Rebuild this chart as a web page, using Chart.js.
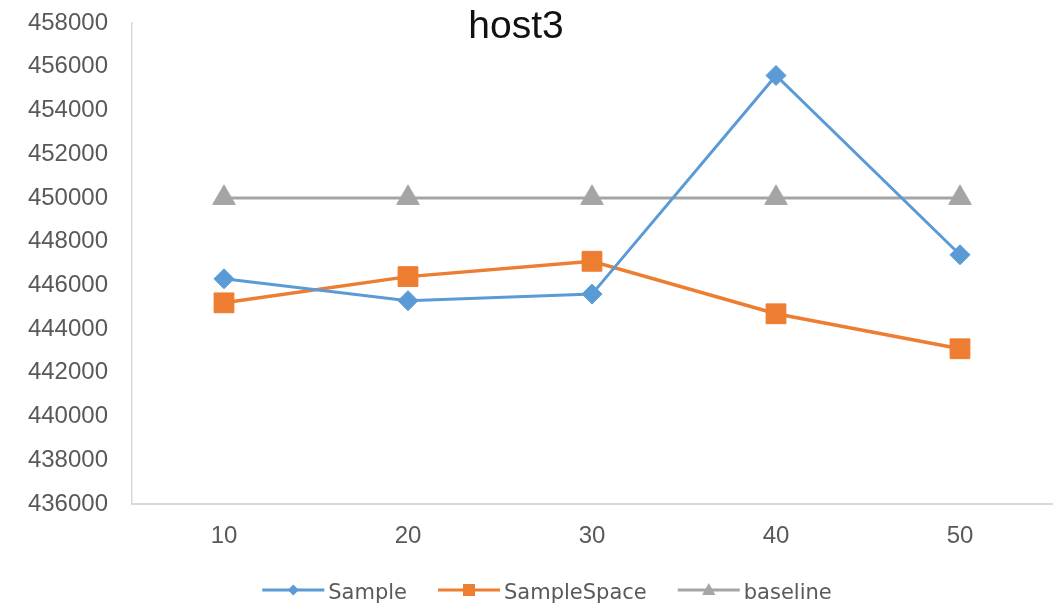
<!DOCTYPE html>
<html>
<head>
<meta charset="utf-8">
<script src="https://cdn.jsdelivr.net/npm/chart.js@4/dist/chart.umd.min.js"></script>
<style>
  html, body { margin: 0; padding: 0; background: #ffffff; }
  #wrap { width: 1060px; height: 608px; }
</style>
</head>
<body>
<div id="wrap"><canvas id="chart" width="1060" height="608"></canvas></div>
<script>
// Chart content
const chartTitle = 'host3';
const categories = ['10', '20', '30', '40', '50'];
const sampleValues = [446300, 445300, 445600, 455600, 447400];
const sampleSpaceValues = [445200, 446400, 447100, 444700, 443100];
const baselineValues = [450000, 450000, 450000, 450000, 450000];
const seriesNames = ['Sample', 'SampleSpace', 'baseline'];
const yMin = 436000;
const yMax = 458000;
const yStep = 2000;

const BLUE = '#5b9bd5';
const ORANGE = '#ed7d31';
const GRAY = '#a5a5a5';
const TICK_COLOR = '#595959';
const AXIS_COLOR = '#d9d9d9';

// small marker shapes used by the legend
function drawMarker(ctx, style, x, y, r, color) {
  ctx.save();
  ctx.fillStyle = color;
  ctx.beginPath();
  if (style === 'rectRot') {
    ctx.moveTo(x - r, y); ctx.lineTo(x, y - r); ctx.lineTo(x + r, y); ctx.lineTo(x, y + r);
  } else if (style === 'rect') {
    ctx.rect(x - r, y - r, 2 * r, 2 * r);
  } else {
    ctx.moveTo(x, y - r); ctx.lineTo(x + r * 0.95, y + r * 0.7); ctx.lineTo(x - r * 0.95, y + r * 0.7);
  }
  ctx.closePath();
  ctx.fill();
  ctx.restore();
}

// title and line+marker legend drawn on top of the chart
const decorations = {
  id: 'decorations',
  afterDraw(chart) {
    const ctx = chart.ctx;
    ctx.save();
    ctx.fillStyle = '#111111';
    ctx.font = '39px "Liberation Sans"';
    ctx.textAlign = 'center';
    ctx.textBaseline = 'alphabetic';
    ctx.fillText(chartTitle, 516, 38);

    ctx.font = '21px "DejaVu Sans"';
    ctx.textAlign = 'left';
    const lineLen = 62, textGap = 4, itemGap = 31, legendY = 590, centerX = 547;
    const items = chart.data.datasets.map(ds => ({
      label: ds.label, color: ds.borderColor, style: ds.pointStyle,
      w: lineLen + textGap + ctx.measureText(ds.label).width
    }));
    const total = items.reduce((s, it) => s + it.w, 0) + itemGap * (items.length - 1);
    let x = centerX - total / 2;
    const markerR = { rectRot: 5.5, rect: 6, triangle: 7 };
    items.forEach(it => {
      ctx.strokeStyle = it.color;
      ctx.lineWidth = 3;
      ctx.beginPath();
      ctx.moveTo(x, legendY);
      ctx.lineTo(x + lineLen, legendY);
      ctx.stroke();
      drawMarker(ctx, it.style, x + lineLen / 2, legendY, markerR[it.style], it.color);
      ctx.fillStyle = TICK_COLOR;
      ctx.textBaseline = 'alphabetic';
      ctx.fillText(it.label, x + lineLen + textGap, 599);
      x += it.w + itemGap;
    });
    ctx.restore();
  }
};

// keep the plot box fixed: no extra room reserved for overhanging tick labels
function clearLabelPadding(scale) {
  scale.paddingTop = 0;
  scale.paddingBottom = 0;
  scale.paddingLeft = 0;
  scale.paddingRight = 0;
}

Chart.defaults.font.family = '"Liberation Sans", Arial, sans-serif';

new Chart(document.getElementById('chart'), {
  type: 'line',
  data: {
    labels: categories,
    datasets: [
      {
        label: seriesNames[0], data: sampleValues,
        borderColor: BLUE, backgroundColor: BLUE, borderWidth: 3,
        pointStyle: 'rectRot', pointRadius: 10, pointBorderWidth: 1,
        pointBackgroundColor: BLUE, pointBorderColor: BLUE, tension: 0
      },
      {
        label: seriesNames[1], data: sampleSpaceValues,
        borderColor: ORANGE, backgroundColor: ORANGE, borderWidth: 3.5,
        pointStyle: 'rect', pointRadius: 14, pointBorderWidth: 1,
        pointBackgroundColor: ORANGE, pointBorderColor: ORANGE, tension: 0
      },
      {
        label: seriesNames[2], data: baselineValues,
        borderColor: GRAY, backgroundColor: GRAY, borderWidth: 3,
        pointStyle: 'triangle', pointRadius: 13, pointBorderWidth: 1,
        pointBackgroundColor: GRAY, pointBorderColor: GRAY, tension: 0
      }
    ]
  },
  options: {
    responsive: false,
    animation: false,
    events: [],
    layout: { autoPadding: false, padding: { left: 0, right: 8, top: 23, bottom: 0 } },
    plugins: {
      legend: { display: false },
      title: { display: false },
      tooltip: { enabled: false }
    },
    scales: {
      x: {
        type: 'category',
        offset: true,
        grid: { display: false, drawTicks: false },
        border: { display: true, color: AXIS_COLOR, width: 2 },
        ticks: { color: TICK_COLOR, font: { size: 24 }, padding: 18, maxRotation: 0 },
        afterFit(scale) { scale.height = 104; clearLabelPadding(scale); }
      },
      y: {
        min: yMin, max: yMax,
        grid: { display: false, drawTicks: false },
        border: { display: true, color: AXIS_COLOR, width: 1.5 },
        ticks: {
          stepSize: yStep, color: TICK_COLOR, font: { size: 24 }, padding: 24,
          callback: v => String(v)
        },
        afterFit(scale) { scale.width = 132; clearLabelPadding(scale); }
      }
    }
  },
  plugins: [decorations]
});
</script>
</body>
</html>
